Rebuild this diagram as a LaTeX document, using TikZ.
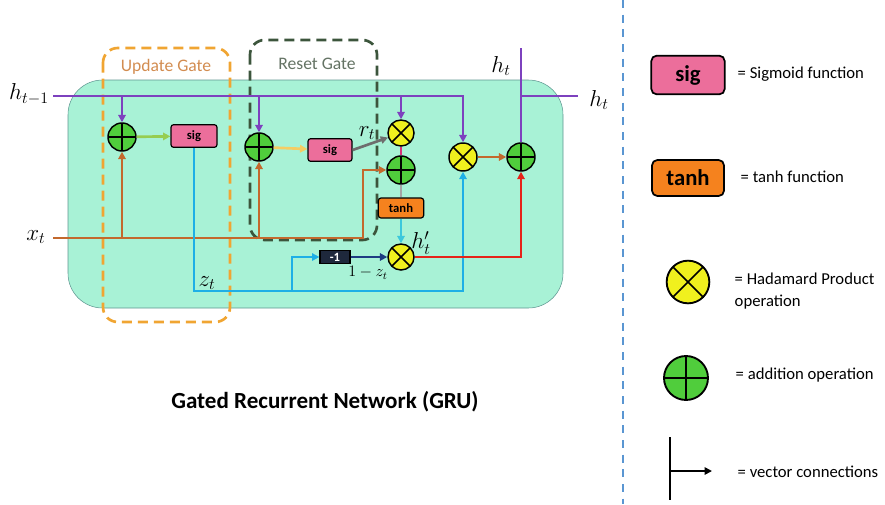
\documentclass[tikz,border=0pt]{standalone}
\usepackage{fontspec}
\setmainfont{Carlito}
\usetikzlibrary{arrows.meta}

\definecolor{cellfill}{RGB}{168,242,214}
\definecolor{cellline}{RGB}{95,150,145}
\definecolor{hpurple}{RGB}{125,65,190}
\definecolor{xbrown}{RGB}{195,105,45}
\definecolor{zcyan}{RGB}{30,175,230}
\definecolor{hred}{RGB}{230,35,25}
\definecolor{sigpink}{RGB}{236,110,155}
\definecolor{tanhorange}{RGB}{245,130,30}
\definecolor{addgreen}{RGB}{80,205,60}
\definecolor{mulyellow}{RGB}{240,240,30}
\definecolor{updorange}{RGB}{240,165,50}
\definecolor{updtext}{RGB}{210,140,80}
\definecolor{resgreen}{RGB}{60,85,60}
\definecolor{restext}{RGB}{100,115,100}
\definecolor{negnavy}{RGB}{30,40,60}
\definecolor{legblue}{RGB}{90,150,210}
\definecolor{ugreen}{RGB}{150,205,80}
\definecolor{ryellow}{RGB}{245,205,100}
\definecolor{rgrey}{RGB}{110,110,110}
\definecolor{rmagenta}{RGB}{215,50,120}
\definecolor{tgrey}{RGB}{165,165,165}
\definecolor{tcyan}{RGB}{60,200,220}
\definecolor{nnavy}{RGB}{30,60,130}

\begin{document}
\begin{tikzpicture}[x=0.75pt,y=-0.75pt,>={Triangle[length=5.5pt,width=5.5pt]},
  addop/.style={circle,draw,line width=1.1pt,fill=addgreen,minimum size=21pt,inner sep=0pt,
    path picture={\draw[line width=1.1pt] (path picture bounding box.north) -- (path picture bounding box.south)
      (path picture bounding box.west) -- (path picture bounding box.east);}},
  mulop/.style={circle,draw,line width=1.1pt,fill=mulyellow,minimum size=19.5pt,inner sep=0pt,
    path picture={\draw[line width=1.1pt] (path picture bounding box.north west) -- (path picture bounding box.south east)
      (path picture bounding box.north east) -- (path picture bounding box.south west);}},
  fnbox/.style={rectangle,draw,rounded corners=2pt,line width=0.9pt,inner sep=0pt,
    font=\fontsize{9.5}{11}\selectfont\bfseries},
  gatebox/.style={line width=2pt,dash pattern=on 7.5pt off 4.5pt,rounded corners=11pt},
  conn/.style={line width=2pt},
  lbl/.style={font=\fontsize{17}{19}\selectfont},
  legtxt/.style={font=\fontsize{12.5}{17}\selectfont,anchor=west,align=left}]
\useasboundingbox (0,0) rectangle (885,504);

% cell body and gates
\draw[cellline,fill=cellfill,rounded corners=26pt] (68,80) rectangle (563,308);
\draw[gatebox,updorange] (103,48) rectangle (230,322);
\draw[gatebox,resgreen] (250,40) rectangle (377,240);
\node[font=\fontsize{13.2}{15}\selectfont,text=updtext] (updlbl) at (166,67) {Update Gate};
\node[font=\fontsize{13.2}{15}\selectfont,text=restext] (reslbl) at (317,64) {Reset Gate};

% operations
\node[addop] (uadd) at (122,137) {};
\node[fnbox,fill=sigpink,minimum width=34.5pt,minimum height=17pt] (usig) at (194,136) {sig};
\node[addop] (radd) at (259,147) {};
\node[fnbox,fill=sigpink,minimum width=33pt,minimum height=17pt] (rsig) at (330,150) {sig};
\node[mulop] (rmul) at (401,133) {};
\node[addop] (hadd) at (401,170) {};
\node[fnbox,fill=tanhorange,minimum width=34pt,minimum height=15pt] (tanh) at (401,208) {tanh};
\node[mulop] (hmul) at (401,257) {};
\node[fnbox,fill=negnavy,text=white,rounded corners=0pt,minimum width=22.5pt,minimum height=10pt] (neg) at (335,257) {-1};
\node[mulop,minimum size=21pt] (zmul) at (463,157) {};
\node[addop] (oadd) at (521,157) {};

% inputs and outputs
\coordinate (hin) at (53,96);
\coordinate (xin) at (53,238);
\coordinate (xturn) at (363,238);
\coordinate (zturn) at (194,291);
\coordinate (zsplit) at (292,291);
\coordinate (htop) at (521,48);
\coordinate (hout) at (578,96);

% h_{t-1}
\draw[conn,hpurple,->] (hin) -| (zmul.north);
\draw[conn,hpurple,->] (uadd |- hin) -- (uadd.north);
\draw[conn,hpurple,->] (radd |- hin) -- (radd.north);
\draw[conn,hpurple,->] (rmul |- hin) -- (rmul.north);
% x_t
\draw[conn,xbrown,->] (xin) -- (xturn) |- (hadd.west);
\draw[conn,xbrown,->] (uadd |- xin) -- (uadd.south);
\draw[conn,xbrown,->] (radd |- xin) -- (radd.south);
% gates
\draw[conn,ugreen,->] (uadd) -- (usig);
\draw[conn,ryellow,->] (radd) -- (rsig);
\draw[conn,rgrey,->] (rsig.east) -- (rmul);
\draw[conn,rmagenta] (rmul) -- (hadd);
\draw[conn,tgrey] (hadd) -- (tanh);
\draw[conn,tcyan,->] (tanh) -- (hmul);
\draw[conn,nnavy,->] (neg) -- (hmul);
% z_t
\draw[conn,zcyan,->] (usig.south) -- (zturn) -| (zmul.south);
\draw[conn,zcyan,->] (zsplit) |- (neg.west);
% output
\draw[conn,hred,->] (hmul.east) -| (oadd.south);
\draw[conn,xbrown,->] (zmul) -- (oadd);
\draw[conn,hpurple] (oadd.north) -- (htop);
\draw[conn,hpurple] (oadd |- hin) -- (hout);

% labels
\node[lbl] (hprev) at (29,94) {$h_{t-1}$};
\node[lbl] (xlbl) at (36,237) {$x_t$};
\node[lbl] (rlbl) at (367,133) {$r_t$};
\node[lbl] (zlbl) at (207,283) {$z_t$};
\node[font=\fontsize{12}{14}\selectfont] (omz) at (368,273) {$1-z_t$};
\node[lbl] (hcand) at (421,243) {$h'_t$};
\node[lbl] (htlbl) at (501,66) {$h_t$};
\node[lbl] (hrlbl) at (599,100) {$h_t$};

\node[font=\fontsize{17.3}{20}\selectfont\bfseries] (title) at (325,402) {Gated Recurrent Network (GRU)};

% legend
\draw[legblue,line width=1.5pt,dash pattern=on 6pt off 5pt] (623,0) -- (623,504);
\node[fnbox,fill=sigpink,rounded corners=4pt,line width=1.3pt,minimum width=55pt,minimum height=29pt,
  font=\fontsize{17}{19}\selectfont\bfseries] (legsig) at (688,75) {sig};
\node[legtxt] (sigtxt) at (733,74) {= Sigmoid function};
\node[fnbox,fill=tanhorange,rounded corners=4pt,line width=1.3pt,minimum width=54pt,minimum height=27pt,
  font=\fontsize{17}{19}\selectfont\bfseries] (legtanh) at (688,178) {tanh};
\node[legtxt] (tanhtxt) at (736,177) {= tanh function};
\node[mulop,minimum size=32pt,line width=1.4pt] (legmul) at (688,282) {};
\node[legtxt] (multxt) at (730,291) {= Hadamard Product\\operation};
\node[addop,minimum size=33pt,line width=1.4pt] (legadd) at (686,378) {};
\node[legtxt] (addtxt) at (731,375) {= addition operation};
\coordinate (vtop) at (670,437);
\coordinate (vbot) at (670,500);
\coordinate (vmid) at (670,471);
\coordinate (vend) at (712,471);
\draw[line width=1.8pt] (vtop) -- (vbot);
\draw[line width=1.3pt,->] (vmid) -- (vend);
\node[legtxt] (vectxt) at (733,472) {= vector connections};
\end{tikzpicture}
\end{document}
